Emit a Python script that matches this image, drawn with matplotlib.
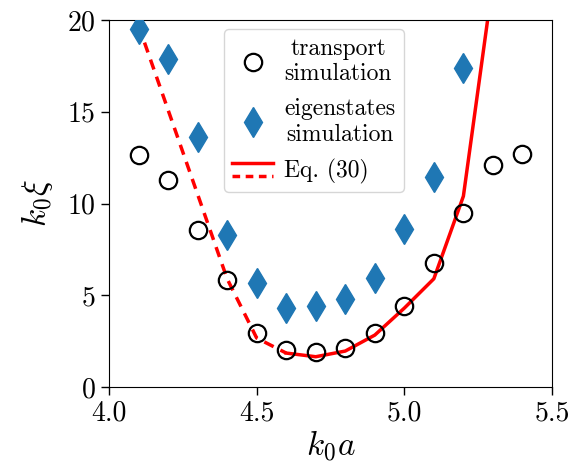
import matplotlib
matplotlib.use("Agg")
import matplotlib.pyplot as plt
from matplotlib.lines import Line2D
from matplotlib.legend_handler import HandlerBase

plt.rcParams['font.family'] = 'serif'
plt.rcParams['font.serif'] = ['cmr10', 'DejaVu Serif']
plt.rcParams['mathtext.fontset'] = 'cm'
plt.rcParams['axes.formatter.use_mathtext'] = True
plt.rcParams['axes.unicode_minus'] = False

# transport simulation (circles)
x_tr = [4.1, 4.2, 4.3, 4.4, 4.5, 4.6, 4.7, 4.8, 4.9, 5.0, 5.1, 5.2, 5.3, 5.4]
y_tr = [12.65, 11.3, 8.55, 5.83, 2.94, 2.0, 1.9, 2.15, 2.95, 4.4, 6.75, 9.5, 12.1, 12.7]

# eigenstates simulation (diamonds)
x_eig = [4.1, 4.2, 4.3, 4.4, 4.5, 4.6, 4.7, 4.8, 4.9, 5.0, 5.1, 5.2]
y_eig = [19.5, 17.9, 13.6, 8.3, 5.67, 4.3, 4.41, 4.8, 5.94, 8.6, 11.43, 17.4]

# Eq. (30): dashed branch and solid branch
x_eq_dash = [4.1, 4.2, 4.3, 4.4, 4.5, 4.6]
y_eq_dash = [19.7, 15.1, 10.5, 5.9, 2.67, 1.85]
x_eq_solid = [4.6, 4.7, 4.8, 4.9, 5.0, 5.1, 5.2, 5.3]
y_eq_solid = [1.85, 1.65, 1.96, 2.83, 4.3, 5.9, 10.4, 22.1]


class TwoLineHandler(HandlerBase):
    def create_artists(self, legend, orig_handle, xdescent, ydescent,
                       width, height, fontsize, trans):
        y1 = height * 0.85 - ydescent
        y2 = height * 0.1 - ydescent
        l1 = Line2D([-xdescent, width - xdescent], [y1, y1], color='red', lw=2.5)
        l2 = Line2D([-xdescent, width - xdescent], [y2, y2], color='red', lw=2.5,
                    linestyle='--', dashes=(2.2, 1.6))
        l1.set_transform(trans)
        l2.set_transform(trans)
        return [l1, l2]


fig = plt.figure(figsize=(5.72, 4.66), dpi=100)
ax = fig.add_axes([0.1906, 0.1695, 0.7744, 0.7875])

h_tr, = ax.plot(x_tr, y_tr, 'o', mfc='none', mec='black', ms=12.5, mew=1.6, zorder=3)
h_eig, = ax.plot(x_eig, y_eig, 'd', color='#1f77b4', ms=15, zorder=3)
ax.plot(x_eq_dash, y_eq_dash, '--', color='red', lw=2.5, dashes=(3, 2.2), zorder=2)
h_eq, = ax.plot(x_eq_solid, y_eq_solid, '-', color='red', lw=2.5, zorder=2)

ax.set_xlim(4.0, 5.5)
ax.set_ylim(0, 20)
ax.set_xticks([4.0, 4.5, 5.0, 5.5])
ax.set_xticklabels(['4.0', '4.5', '5.0', '5.5'])
ax.set_yticks([0, 5, 10, 15, 20])
ax.tick_params(labelsize=20, length=6, width=1)
ax.set_xlabel(r'$k_0a$', fontsize=24, labelpad=1)
ax.set_ylabel(r'$k_0\xi$', fontsize=24, labelpad=9)

leg = ax.legend([h_tr, h_eig, h_eq],
                ['transport\nsimulation', 'eigenstates\nsimulation', 'Eq. (30)'],
                handler_map={h_eq: TwoLineHandler()},
                loc='upper left', bbox_to_anchor=(0.26, 0.975), borderaxespad=0,
                fontsize=17, handlelength=1.7, labelspacing=0.55,
                handletextpad=0.5, borderpad=0.35)
for t in leg.get_texts():
    t.set_multialignment('center')

fig.savefig('out.png', dpi=100)
